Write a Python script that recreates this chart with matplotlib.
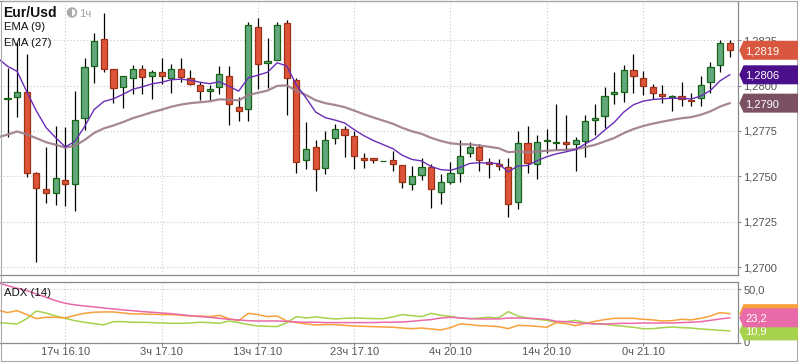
#!/usr/bin/env python3

# Eur/Usd hourly candles with EMA (9), EMA (27) and an ADX (14) panel
import matplotlib
matplotlib.use("Agg")
import matplotlib.pyplot as plt
import numpy as np

from matplotlib.patches import Polygon, Rectangle, Circle, Wedge
from matplotlib.transforms import IdentityTransform

plt.rcParams['font.family'] = ['Liberation Sans', 'DejaVu Sans']

# Hourly candles, 11ч 16.10 ... 9ч 21.10
opens = [1.27926, 1.27939, 1.27964, 1.27518, 1.27430, 1.27407, 1.27479, 1.27457, 1.27820, 1.28110,
         1.28256, 1.28090, 1.27991, 1.28041, 1.28090, 1.28052, 1.28074, 1.28041, 1.28090, 1.28039,
         1.28002, 1.27971, 1.27991, 1.28052, 1.27881, 1.27870, 1.28322, 1.28123, 1.28138, 1.28344,
         1.28030, 1.27589, 1.27661, 1.27545, 1.27710, 1.27760, 1.27721, 1.27600, 1.27600, 1.27584,
         1.27589, 1.27562, 1.27459, 1.27507, 1.27551, 1.27416, 1.27471, 1.27518, 1.27628, 1.27661,
         1.27578, 1.27567, 1.27551, 1.27358, 1.27683, 1.27567, 1.27694, 1.27683, 1.27688, 1.27677,
         1.27694, 1.27809, 1.27832, 1.27953, 1.27964, 1.28085, 1.28041, 1.27991, 1.27953, 1.27936,
         1.27942, 1.27923, 1.27931, 1.28019, 1.28112, 1.28234]
highs = [1.28096, 1.28242, 1.28175, 1.27526, 1.27659, 1.27778, 1.27774, 1.27972, 1.28151, 1.28289,
         1.28399, 1.28090, 1.28050, 1.28114, 1.28114, 1.28086, 1.28151, 1.28120, 1.28151, 1.28083,
         1.28022, 1.28004, 1.28105, 1.28105, 1.27939, 1.28347, 1.28371, 1.28261, 1.28347, 1.28358,
         1.28041, 1.27798, 1.27701, 1.27750, 1.27787, 1.27778, 1.27750, 1.27628, 1.27600, 1.27586,
         1.27642, 1.27562, 1.27559, 1.27602, 1.27569, 1.27512, 1.27578, 1.27701, 1.27688, 1.27677,
         1.27600, 1.27595, 1.27600, 1.27750, 1.27778, 1.27729, 1.27760, 1.27899, 1.27839, 1.27719,
         1.27839, 1.27899, 1.27991, 1.28072, 1.28114, 1.28175, 1.28081, 1.28009, 1.28004, 1.27949,
         1.28022, 1.27961, 1.28053, 1.28132, 1.28252, 1.28252]
lows = [1.27716, 1.27829, 1.27499, 1.27031, 1.27352, 1.27343, 1.27339, 1.27312, 1.27756, 1.28013,
        1.28072, 1.27903, 1.27876, 1.27954, 1.27953, 1.27925, 1.28009, 1.27961, 1.28022, 1.28002,
        1.27921, 1.27921, 1.27954, 1.27780, 1.27802, 1.27802, 1.27980, 1.27986, 1.28138, 1.27839,
        1.27521, 1.27541, 1.27422, 1.27512, 1.27679, 1.27609, 1.27543, 1.27545, 1.27573, 1.27584,
        1.27532, 1.27438, 1.27427, 1.27482, 1.27328, 1.27350, 1.27457, 1.27471, 1.27606, 1.27532,
        1.27490, 1.27536, 1.27279, 1.27319, 1.27521, 1.27488, 1.27631, 1.27646, 1.27646, 1.27532,
        1.27606, 1.27729, 1.27765, 1.27899, 1.27912, 1.27961, 1.27949, 1.27925, 1.27903, 1.27862,
        1.27888, 1.27888, 1.27888, 1.27961, 1.28074, 1.28156]
closes = [1.27930, 1.27964, 1.27518, 1.27435, 1.27407, 1.27490, 1.27457, 1.27811, 1.28101, 1.28245,
          1.28090, 1.27986, 1.28050, 1.28090, 1.28046, 1.28074, 1.28052, 1.28090, 1.28046, 1.28008,
          1.27971, 1.27980, 1.28063, 1.27898, 1.27859, 1.28334, 1.28118, 1.28136, 1.28333, 1.28041,
          1.27581, 1.27650, 1.27540, 1.27699, 1.27760, 1.27727, 1.27611, 1.27589, 1.27589, 1.27586,
          1.27567, 1.27468, 1.27501, 1.27551, 1.27430, 1.27468, 1.27518, 1.27613, 1.27661, 1.27589,
          1.27567, 1.27556, 1.27347, 1.27683, 1.27573, 1.27688, 1.27699, 1.27688, 1.27677, 1.27699,
          1.27804, 1.27822, 1.27942, 1.27965, 1.28085, 1.28052, 1.27997, 1.27958, 1.27942, 1.27942,
          1.27928, 1.27914, 1.28002, 1.28101, 1.28234, 1.28194]

# Indicator lines; the first value belongs to the bar before the first candle
ema9 = [1.28150, 1.28106, 1.28078, 1.27966, 1.27860, 1.27769, 1.27713, 1.27662, 1.27692, 1.27774,
        1.27868, 1.27912, 1.27927, 1.27952, 1.27979, 1.27993, 1.28009, 1.28018, 1.28032, 1.28035,
        1.28029, 1.28018, 1.28010, 1.28021, 1.27996, 1.27969, 1.28042, 1.28057, 1.28073, 1.28125,
        1.28108, 1.28003, 1.27932, 1.27854, 1.27823, 1.27810, 1.27794, 1.27757, 1.27724, 1.27697,
        1.27675, 1.27653, 1.27616, 1.27593, 1.27585, 1.27554, 1.27537, 1.27533, 1.27549, 1.27571,
        1.27575, 1.27573, 1.27570, 1.27525, 1.27557, 1.27560, 1.27586, 1.27608, 1.27624, 1.27635,
        1.27648, 1.27679, 1.27708, 1.27754, 1.27797, 1.27854, 1.27894, 1.27914, 1.27923, 1.27927,
        1.27930, 1.27930, 1.27926, 1.27942, 1.27973, 1.28026, 1.28059]
ema27 = [1.27715, 1.27730, 1.27747, 1.27731, 1.27710, 1.27688, 1.27674, 1.27658, 1.27669, 1.27700,
         1.27739, 1.27764, 1.27780, 1.27799, 1.27820, 1.27836, 1.27853, 1.27867, 1.27883, 1.27895,
         1.27903, 1.27908, 1.27913, 1.27924, 1.27922, 1.27918, 1.27947, 1.27960, 1.27972, 1.27998,
         1.28001, 1.27971, 1.27948, 1.27919, 1.27903, 1.27893, 1.27881, 1.27862, 1.27842, 1.27824,
         1.27807, 1.27790, 1.27767, 1.27748, 1.27734, 1.27712, 1.27695, 1.27682, 1.27677, 1.27676,
         1.27670, 1.27663, 1.27655, 1.27633, 1.27637, 1.27632, 1.27636, 1.27641, 1.27644, 1.27646,
         1.27650, 1.27661, 1.27673, 1.27692, 1.27711, 1.27738, 1.27760, 1.27777, 1.27790, 1.27801,
         1.27811, 1.27820, 1.27826, 1.27839, 1.27858, 1.27884, 1.27903]
adx = [56.3, 53.4, 50.9, 48.7, 45.6, 42.5, 39.3, 36.8, 35.3, 34.3, 33.4, 32.4, 31.5, 30.6, 29.9, 29.0,
       28.4, 27.7, 27.1, 26.2, 25.2, 24.3, 23.7, 22.7, 21.8, 21.2, 20.5, 20.2, 20.2, 20.2, 19.9, 19.3,
       19.0, 19.0, 18.7, 18.7, 18.7, 18.7, 18.7, 18.7, 19.0, 19.0, 19.3, 19.9, 20.8, 21.5, 23.0, 23.7,
       23.0, 22.4, 22.1, 22.1, 22.1, 23.0, 23.0, 22.7, 22.4, 21.8, 19.9, 19.6, 18.7, 18.0, 17.4, 17.4,
       17.7, 18.0, 18.0, 18.3, 18.3, 18.3, 18.3, 18.7, 19.0, 19.6, 20.8, 22.1, 23.2]
di_orange = [30.3, 28.1, 29.9, 26.2, 22.4, 23.7, 23.7, 23.0, 25.5, 27.4, 28.4, 28.7, 28.7, 27.7, 26.8,
             26.8, 26.5, 26.2, 26.2, 25.5, 24.9, 24.9, 24.3, 25.5, 22.4, 20.5, 27.4, 26.2, 24.3, 24.9,
             20.2, 18.7, 17.4, 16.5, 16.8, 16.8, 16.1, 15.5, 15.2, 14.9, 14.6, 14.3, 13.6, 13.0, 13.6,
             12.7, 11.8, 13.9, 17.4, 16.8, 15.8, 15.5, 14.9, 13.0, 16.1, 15.8, 15.2, 14.3, 18.7, 17.7,
             15.8, 18.0, 19.9, 21.5, 22.7, 22.7, 22.7, 21.8, 21.2, 20.2, 20.5, 21.8, 21.2, 22.7, 24.9,
             28.1, 27.1]
di_green = [18.7, 18.0, 17.4, 22.4, 29.6, 27.7, 24.9, 22.7, 20.5, 19.0, 17.7, 16.5, 19.6, 19.6, 19.0,
            19.0, 18.7, 18.3, 18.0, 18.0, 18.3, 19.0, 18.7, 18.0, 20.2, 18.7, 16.8, 15.5, 15.2, 14.9,
            18.7, 24.3, 23.0, 24.0, 23.0, 22.1, 22.7, 23.0, 22.7, 22.4, 22.4, 24.0, 26.2, 25.2, 24.3,
            27.4, 25.5, 24.6, 23.0, 22.4, 23.0, 23.7, 23.0, 29.0, 24.9, 23.0, 21.8, 20.8, 18.7, 19.6,
            20.8, 18.7, 17.7, 17.1, 16.1, 15.2, 14.3, 13.0, 13.0, 13.9, 14.6, 13.9, 13.6, 12.7, 12.1,
            11.4, 10.9]

time_ticks = [6, 16, 26, 36, 46, 56, 66]
time_labels = ['17ч 16.10', '3ч 17.10', '13ч 17.10', '23ч 17.10', '4ч 20.10', '14ч 20.10', '0ч 21.10']
price_ticks = [1.2700, 1.2725, 1.2750, 1.2775, 1.2800, 1.2825]

W, H = 798, 363
GRID = '#c8c8c8'
SPINE = '#8a8a8a'
TEXT = '#555555'


def fx(px):
    return px / W


def fy(py):
    return 1 - py / H


def style_axes(ax):
    for side in ('top', 'right', 'bottom'):
        ax.spines[side].set_color(SPINE)
        ax.spines[side].set_linewidth(0.9)
    ax.spines['left'].set_visible(False)
    ax.yaxis.tick_right()
    ax.tick_params(axis='y', direction='out', length=2.5, width=0.8, color=SPINE, pad=1.5,
                   labelsize=8, labelcolor=TEXT)
    ax.grid(True, color=GRID, linestyle=(0, (1, 2)), linewidth=0.8)
    ax.set_axisbelow(True)


def tag(fig, ax, value, color, text=None, z=10):
    # arrow shaped value label on the right of the axes
    yd = ax.transData.transform((0, value))[1]
    yc, hh = yd / H, 9.5 / H
    tip, x0, x1 = fx(739.3), fx(743.5), 1.0
    fig.add_artist(Polygon([(tip, yc), (x0, yc + hh), (x1, yc + hh), (x1, yc - hh), (x0, yc - hh)],
                           closed=True, transform=fig.transFigure, facecolor=color,
                           edgecolor='none', zorder=z))
    if text:
        fig.text(fx(745), yc, text, color='white', fontsize=8, ha='left', va='center_baseline',
                 zorder=z + 0.5)


def plot():
    fig = plt.figure(figsize=(W / 100, H / 100), dpi=100)
    fig.patch.set_facecolor('white')

    ax = fig.add_axes([0, fy(275), fx(738), (275 - 0.5) / H])
    ax2 = fig.add_axes([0, fy(342.5), fx(738), (342.5 - 281.7) / H])

    n = len(closes)
    x = np.arange(n)
    xi = np.arange(-1, n)
    o, h, l, c = map(np.array, (opens, highs, lows, closes))

    # candles
    up = c >= o
    ax.vlines(x, l, h, color='black', linewidth=0.9, zorder=2)
    body = np.maximum(np.abs(c - o), 0.00002)
    bottom = np.minimum(o, c)
    ax.bar(x[up], body[up], bottom=bottom[up], width=0.64, color='#62a87c',
           edgecolor='#176617', linewidth=0.9, zorder=3)
    ax.bar(x[~up], body[~up], bottom=bottom[~up], width=0.64, color='#dd543a',
           edgecolor='#9e3216', linewidth=0.9, zorder=3)

    ax.plot(xi, ema27, color='#9c7b89', linewidth=1.6, alpha=0.9, zorder=4)
    ax.plot(xi, ema9, color='#6a2db5', linewidth=1.0, zorder=4)

    ax.set_xlim(-0.78, 75.86)
    ax.set_ylim(1.26957, 1.28468)
    style_axes(ax)
    ax.set_yticks(price_ticks)
    ax.set_yticklabels(['{:.4f}'.format(p).replace('.', ',') for p in price_ticks])
    ax.set_xticks(time_ticks)
    ax.tick_params(axis='x', length=0, labelbottom=False)

    # ADX panel
    ax2.plot(xi, di_green, color='#a6d24c', linewidth=1.1, zorder=3)
    ax2.plot(xi, di_orange, color='#f8a03a', linewidth=1.1, zorder=3)
    ax2.plot(xi, adx, color='#e96aa8', linewidth=1.1, zorder=4)
    ax2.set_xlim(-0.78, 75.86)
    ax2.set_ylim(0, 57.1)
    style_axes(ax2)
    ax2.set_yticks([0, 50])
    ax2.set_yticklabels(['0', '50,0'])
    ax2.set_xticks(time_ticks)
    ax2.set_xticklabels(time_labels)
    ax2.tick_params(axis='x', direction='out', length=2.5, width=0.8, color=SPINE, pad=1,
                    labelsize=8, labelcolor=TEXT)

    # legends
    fig.text(fx(3.5), fy(16.8), 'Eur/Usd', fontsize=10, fontweight='bold', color='#111111')
    fig.text(fx(3.5), fy(30.5), 'EMA (9)', fontsize=8.2, color='#111111')
    fig.text(fx(3.5), fy(45.5), 'EMA (27)', fontsize=8.2, color='#111111')
    fig.text(fx(3.5), fy(296.5), 'ADX (14)', fontsize=8.2, color='#111111')
    cx, cy = 72, H - 12.5
    fig.add_artist(Circle((cx, cy), 5.2, transform=IdentityTransform(), facecolor='#a9a9a9',
                          edgecolor='none'))
    fig.add_artist(Wedge((cx, cy), 3.4, -90, 90, transform=IdentityTransform(),
                         facecolor='white', edgecolor='none'))
    fig.text(fx(79), fy(16.8), '1ч', fontsize=8.2, color='#a0a0a0')

    # value tags
    tag(fig, ax, closes[-1], '#d9573f', '{:.4f}'.format(closes[-1]).replace('.', ','))
    tag(fig, ax, ema9[-1], '#4b0f8c', '{:.4f}'.format(ema9[-1]).replace('.', ','))
    tag(fig, ax, ema27[-1], '#7a5062', '{:.4f}'.format(ema27[-1]).replace('.', ','))
    tag(fig, ax2, di_orange[-1], '#f8a03a', z=10)
    tag(fig, ax2, di_green[-1], '#a6d24c', '{:.1f}'.format(di_green[-1]).replace('.', ','), z=11)
    tag(fig, ax2, adx[-1], '#e96aa8', '{:.1f}'.format(adx[-1]).replace('.', ','), z=12)

    # outer frame
    fig.add_artist(Rectangle((0.5 / W, 1 - 360.5 / H), 796.5 / W, 360 / H, fill=False,
                             edgecolor='#a8a8a8', linewidth=0.8, transform=fig.transFigure))

    fig.savefig('out.png', dpi=100, facecolor='white')


if __name__ == "__main__":
    plot()
